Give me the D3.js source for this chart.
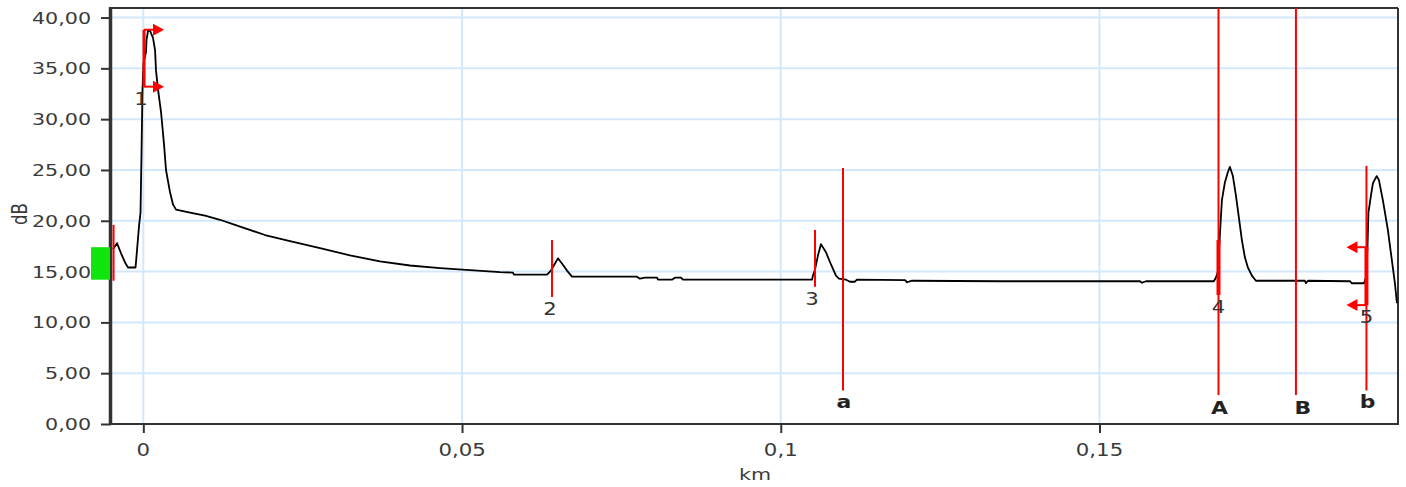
<!DOCTYPE html>
<html>
<head>
<meta charset="utf-8">
<script src="https://cdn.jsdelivr.net/npm/d3@7"></script>
<style>
  body { margin: 0; background: #fff; }
  svg { display: block; }
  text { font-family: "DejaVu Sans", Verdana, sans-serif; }
</style>
</head>
<body>
<svg id="chart" width="1406" height="487"></svg>
<script>
// ---- data ----
const yTicks = [0, 5, 10, 15, 20, 25, 30, 35, 40];
const yTickLabels = ["0,00", "5,00", "10,00", "15,00", "20,00", "25,00", "30,00", "35,00", "40,00"];
const xTicks = [0, 0.05, 0.1, 0.15];
const xTickLabels = ["0", "0,05", "0,1", "0,15"];
const xDomain = [-0.00507, 0.19683];
const yDomain = [0, 40.94];

// OTDR trace: distance (km) and level (dB)
const traceKm = [
  -0.00475, -0.00413, -0.0035, -0.00287, -0.0024, -0.00122, -0.00099, -0.00067, -0.00044, -0.00028,
  -0.00013, 0.00003, 0.00042, 0.0005, 0.00074, 0.00105, 0.00152, 0.00184, 0.00199, 0.00231,
  0.00278, 0.00293, 0.00325, 0.00356, 0.00419, 0.00466, 0.00513, 0.00733, 0.00968, 0.01203,
  0.01438, 0.01909, 0.02301, 0.02772, 0.03242, 0.03713, 0.04183, 0.04654, 0.05125, 0.05595,
  0.05799, 0.05815, 0.06333, 0.06395, 0.06458, 0.06505, 0.06568, 0.06646, 0.06725, 0.07744,
  0.07791, 0.0787, 0.08058, 0.08074, 0.08293, 0.0834, 0.08434, 0.08466, 0.1049, 0.10505,
  0.10537, 0.10584, 0.10631, 0.10709, 0.10788, 0.10866, 0.10913, 0.11023, 0.11085, 0.11164,
  0.11195, 0.1195, 0.11981, 0.1206, 0.13439, 0.15635, 0.15667, 0.15729, 0.16794, 0.16826,
  0.16858, 0.16889, 0.1692, 0.16968, 0.17015, 0.17046, 0.17093, 0.1714, 0.17187, 0.17234,
  0.17281, 0.17328, 0.17391, 0.17454, 0.18223, 0.18238, 0.1827, 0.18929, 0.18961, 0.19149,
  0.19180, 0.19204, 0.19219, 0.19259, 0.19290, 0.19348, 0.19384, 0.19446, 0.19524, 0.19587,
  0.19634, 0.19666
];
const traceDb = [
  17.2, 17.8, 16.8, 15.9, 15.4, 15.4, 17.1, 19.5, 20.8, 26.8,
  32.9, 35.5, 36.6, 37.8, 38.7, 38.7, 38.0, 36.8, 34.8, 32.9,
  30.7, 29.7, 27.5, 25.0, 22.8, 21.6, 21.1, 20.8, 20.5, 20.1,
  19.6, 18.6, 18.0, 17.3, 16.6, 16.0, 15.6, 15.35, 15.15, 14.95,
  14.9, 14.7, 14.7, 15.1, 15.8, 16.3, 15.8, 15.1, 14.5, 14.5,
  14.3, 14.4, 14.4, 14.2, 14.2, 14.4, 14.4, 14.2, 14.2, 14.6,
  15.2, 16.6, 17.7, 16.9, 15.7, 14.6, 14.3, 14.2, 14.0, 14.0,
  14.2, 14.15, 13.95, 14.1, 14.05, 14.05, 13.9, 14.05, 14.05, 14.4,
  15.0, 18.6, 22.0, 23.8, 24.8, 25.3, 24.4, 22.5, 20.3, 18.1,
  16.4, 15.4, 14.6, 14.1, 14.1, 13.85, 14.1, 14.05, 13.85, 13.85,
  14.4, 17.3, 20.8, 22.5, 23.7, 24.4, 24.0, 22.0, 19.1, 16.1,
  13.9, 11.9
];

// launch marker
const launchKm = -0.00467;
const launchDb = [19.6, 14.1];
const launchBoxDb = [17.4, 14.2];

// numbered events
const eventIds = ["1", "2", "3", "4", "5"];
const eventKm = [0.00011, 0.06411, 0.10537, 0.16867, 0.19188];
const eventTopDb = [38.8, 18.1, 19.1, 18.1, 17.4];
const eventBottomDb = [33.2, 12.5, 13.5, 12.7, 11.7];

// cursors
const cursorIds = ["a", "A", "B", "b"];
const cursorKm = [0.10976, 0.16867, 0.18082, 0.19188];
const cursorTopDb = [25.2, 40.94, 40.94, 25.4];
const cursorBottomDb = [3.3, 2.85, 2.85, 3.3];

// ---- layout ----
const svg = d3.select("#chart");
const plotL = 111, plotR = 1398, plotT = 8, plotB = 424;
const x = d3.scaleLinear().domain(xDomain).range([plotL, plotR]);
const y = d3.scaleLinear().domain(yDomain).range([plotB, plotT]);
const SX = 1.25;           // horizontal stretch of the label glyphs
const textColor = "#3a3a3a";
const red = "#ff0000";

function label(g, px, py, txt, o = {}) {
  return g.append("text")
    .attr("transform", `translate(${px},${py}) scale(${SX},1)` + (o.rotate ? ` rotate(${o.rotate})` : ""))
    .attr("text-anchor", o.anchor || "middle")
    .attr("font-size", o.size || 17)
    .attr("font-weight", o.weight || "normal")
    .attr("fill", o.fill || textColor)
    .text(txt);
}

svg.append("defs").append("clipPath").attr("id", "plot")
  .append("rect").attr("x", plotL).attr("y", plotT).attr("width", plotR - plotL).attr("height", plotB - plotT);

// grid
const grid = svg.append("g");
grid.selectAll("line.h").data(yTicks.filter(d => d > 0)).join("line")
  .attr("x1", plotL).attr("x2", plotR).attr("y1", d => y(d)).attr("y2", d => y(d))
  .attr("stroke", "#d2e8fc").attr("stroke-width", 2);
grid.selectAll("line.v").data(xTicks).join("line")
  .attr("x1", d => x(d)).attr("x2", d => x(d)).attr("y1", plotT).attr("y2", plotB)
  .attr("stroke", "#d2e8fc").attr("stroke-width", 2);

// axes
const yAxis = svg.append("g").attr("transform", `translate(${plotL},0)`)
  .call(d3.axisLeft(y).tickValues(yTicks).tickSize(10).tickFormat(""));
const xAxis = svg.append("g").attr("transform", `translate(0,${plotB})`)
  .call(d3.axisBottom(x).tickValues(xTicks).tickSize(9).tickFormat(""));
[yAxis, xAxis].forEach(a => {
  a.select(".domain").remove();
  a.selectAll(".tick line").attr("stroke", "#333").attr("stroke-width", 2);
});
yTicks.forEach((t, i) => label(svg, 91, y(t) + 6, yTickLabels[i], { anchor: "end", size: 16.5 }));
xTicks.forEach((t, i) => label(svg, x(t), 456, xTickLabels[i], { size: 17 }));
label(svg, 755, 480, "km", { size: 16.5 });
label(svg, 27, 214, "dB", { size: 16.5, rotate: -90 });

// frame
svg.append("line").attr("x1", plotL).attr("x2", plotR).attr("y1", plotT).attr("y2", plotT).attr("stroke", "#333").attr("stroke-width", 2);
svg.append("line").attr("x1", plotR).attr("x2", plotR).attr("y1", plotT).attr("y2", plotB).attr("stroke", "#333").attr("stroke-width", 2);
svg.append("line").attr("x1", plotL).attr("x2", plotR + 1).attr("y1", plotB).attr("y2", plotB).attr("stroke", "#333").attr("stroke-width", 2);
svg.append("line").attr("x1", plotL - 0.5).attr("x2", plotL - 0.5).attr("y1", plotT - 1).attr("y2", plotB + 1).attr("stroke", "#333").attr("stroke-width", 3.5);

// launch marker
svg.append("rect").attr("x", 91).attr("width", plotL - 1 - 91)
  .attr("y", y(launchBoxDb[0])).attr("height", y(launchBoxDb[1]) - y(launchBoxDb[0]))
  .attr("fill", "#0ee60e");

// trace
const traceData = traceKm.map((k, i) => [k, traceDb[i]]);
svg.append("path").datum(traceData)
  .attr("clip-path", "url(#plot)")
  .attr("fill", "none").attr("stroke", "#000").attr("stroke-width", 1.8)
  .attr("stroke-linejoin", "round")
  .attr("d", d3.line().x(d => x(d[0])).y(d => y(d[1])));

svg.append("line").attr("x1", x(launchKm)).attr("x2", x(launchKm))
  .attr("y1", y(launchDb[0])).attr("y2", y(launchDb[1])).attr("stroke", red).attr("stroke-width", 2);

// cursors
const cur = svg.append("g");
cursorKm.forEach((k, i) => {
  const px = x(k);
  cur.append("line").attr("x1", px).attr("x2", px)
    .attr("y1", y(cursorTopDb[i])).attr("y2", y(cursorBottomDb[i]))
    .attr("stroke", red).attr("stroke-width", 2);
  const upper = cursorIds[i] === cursorIds[i].toUpperCase();
  label(cur, px + (cursorIds[i] === "B" ? 7 : 1), y(cursorBottomDb[i]) + (upper ? 19 : 18), cursorIds[i],
    { weight: "bold", size: 17.5, fill: "#222" });
});

// numbered events
const ev = svg.append("g");
function arrow(g, px, py, dir) {
  // dir = +1 right, -1 left
  g.append("line").attr("x1", px).attr("x2", px + dir * 10).attr("y1", py).attr("y2", py)
    .attr("stroke", red).attr("stroke-width", 2);
  g.append("path")
    .attr("d", `M${px + dir * 9},${py - 6}L${px + dir * 20},${py}L${px + dir * 9},${py + 6}Z`)
    .attr("fill", red);
}
eventKm.forEach((k, i) => {
  const px = x(k), y0 = y(eventTopDb[i]), y1 = y(eventBottomDb[i]);
  const id = eventIds[i];
  const w = (id === "1") ? 3 : (id === "4" || id === "5") ? 4 : 2;
  ev.append("line").attr("x1", px).attr("x2", px).attr("y1", y0).attr("y2", y1)
    .attr("stroke", red).attr("stroke-width", w);
  if (id === "1") { arrow(ev, px, y0, 1); arrow(ev, px, y1, 1); }
  if (id === "5") { arrow(ev, px, y0, -1); arrow(ev, px, y1, -1); }
  const dx = id === "1" ? -3 : id === "3" ? -3 : id === "2" ? -2 : 0;
  label(ev, px + dx, y1 + 18, id, { size: 17, fill: "#333" });
});
</script>
</body>
</html>
